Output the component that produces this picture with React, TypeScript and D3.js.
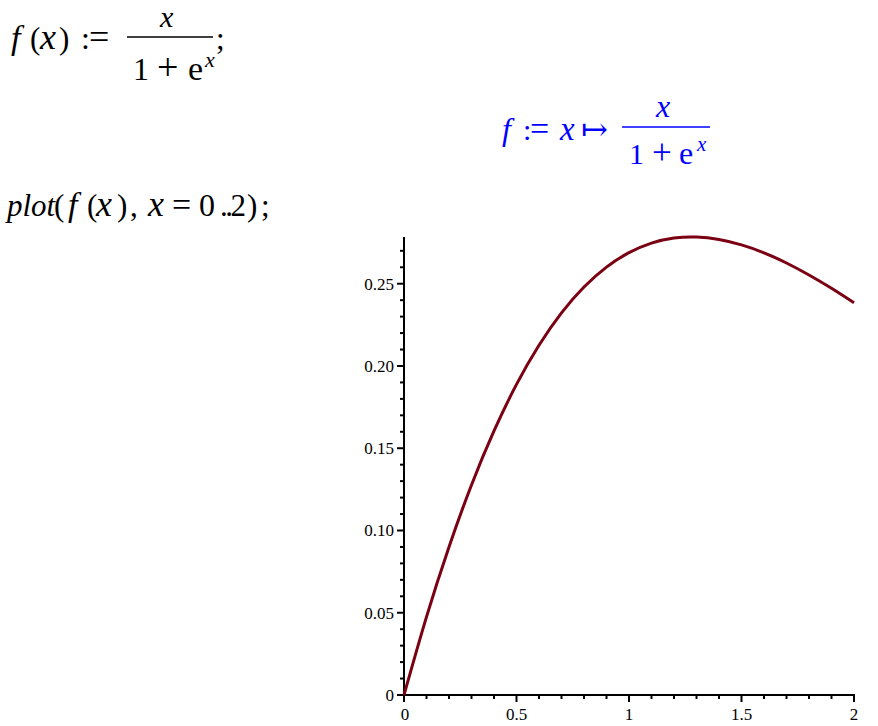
import React from 'react';
import * as d3 from 'd3';

// f(x) = x / (1 + e^x) at 0.1 steps
const xValues = [0, 0.1, 0.2, 0.3, 0.4, 0.5, 0.6, 0.7, 0.8, 0.9, 1.0, 1.1, 1.2, 1.3, 1.4, 1.5, 1.6, 1.7, 1.8, 1.9, 2.0];
const yValues = [0, 0.0475, 0.0900, 0.1277, 0.1605, 0.1888, 0.2126, 0.2323, 0.2480, 0.2601, 0.2689, 0.2747, 0.2778, 0.2784, 0.2769, 0.2736, 0.2688, 0.2626, 0.2553, 0.2472, 0.2384];

const xMajorTicks = [0, 0.5, 1, 1.5, 2];
const xTickLabels = ['0', '0.5', '1', '1.5', '2'];
const yMajorTicks = [0, 0.05, 0.1, 0.15, 0.2, 0.25];
const yTickLabels = ['0', '0.05', '0.10', '0.15', '0.20', '0.25'];
const yMax = 0.2784;

const serif = '"Liberation Serif", "DejaVu Serif", serif';

// worksheet text pieces: [text, left, baseline, italic, size, letterSpacing]
type Piece = [string, number, number, boolean, number, number?];

const inputLine1: Piece[] = [
  ['f', 11, 49, true, 34], ['(', 30, 49, false, 31], ['x', 40, 49, true, 36], [')', 59, 49, false, 31],
  [':', 81, 49, false, 32], ['=', 89, 49, false, 36],
  ['x', 160, 27, true, 30],
  ['1', 133, 80, false, 32], ['+', 157, 80, false, 38], ['e', 188, 80, false, 34], ['x', 205, 67, true, 22],
  [';', 216, 49, false, 31],
];
const inputLine2: Piece[] = [
  ['plot', 7, 216, true, 31], ['(', 54, 216, false, 31], ['f', 68, 216, true, 34], ['(', 87, 216, false, 31],
  ['x', 96, 216, true, 36], [')', 117, 216, false, 31], [',', 130, 216, false, 31],
  ['x', 148, 216, true, 36], ['=', 172, 216, false, 34], ['0', 199, 216, false, 32],
  ['..2', 220, 216, false, 31, -2.5],
  [')', 247, 216, false, 31], [';', 261, 216, false, 31],
];
const outputLine: Piece[] = [
  ['f', 502, 140, true, 32], [':', 523, 140, false, 30], ['=', 530, 140, false, 34],
  ['x', 560, 140, true, 33], ['↦', 581, 140, false, 32],
  ['x', 656, 117, true, 32],
  ['1', 629, 164, false, 30], ['+', 652, 164, false, 35], ['e', 679, 164, false, 32], ['x', 697, 151, true, 21],
];

const Pieces = ({ items, color }: { items: Piece[]; color: string }) => (
  <g fontFamily={serif} fill={color}>
    {items.map(([t, px, py, ital, size, ls], i) => (
      <text key={i} x={px} y={py} fontSize={size} letterSpacing={ls || 0}
        fontStyle={ital ? 'italic' : 'normal'}>{t}</text>
    ))}
  </g>
);

const App = () => {
  const x = d3.scaleLinear().domain([0, 2]).range([404, 854]);
  const y = d3.scaleLinear().domain([0, yMax]).range([695, 237]);

  const line = d3.line<number>()
    .x((d, i) => x(xValues[i]))
    .y(d => y(d))
    .curve(d3.curveNatural);

  const xMinor = d3.range(0, 20).map(i => i * 0.1).filter(v => Math.abs(v * 2 - Math.round(v * 2)) > 1e-6);
  const yMinor = d3.range(1, 28).map(i => i * 0.01).filter(v => Math.abs(v * 20 - Math.round(v * 20)) > 1e-6);

  return (
    <svg width={878} height={726} style={{ position: 'absolute', left: 0, top: 0, background: '#fff' }}>
      <Pieces items={inputLine1} color="#000" />
      <line x1={127} x2={213} y1={37} y2={37} stroke="#000" strokeWidth={1.3} />
      <Pieces items={inputLine2} color="#000" />
      <Pieces items={outputLine} color="#0000ff" />
      <line x1={622} x2={710} y1={127} y2={127} stroke="#0000ff" strokeWidth={1.3} />

      {/* axes */}
      <g stroke="#000" strokeWidth={2}>
        <line x1={x(0)} x2={x(0)} y1={y(0)} y2={y(yMax)} />
        <line x1={x(0) - 1} x2={x(2) + 1} y1={y(0)} y2={y(0)} />
        {xMajorTicks.map(v => (
          <line key={'xM' + v} x1={x(v)} x2={x(v)} y1={y(0)} y2={y(0) + 7} />
        ))}
        {xMinor.map(v => (
          <line key={'xm' + v} x1={x(v)} x2={x(v)} y1={y(0)} y2={y(0) + 4} />
        ))}
        {yMajorTicks.map(v => (
          <line key={'yM' + v} x1={x(0) - 7} x2={x(0)} y1={y(v)} y2={y(v)} />
        ))}
        {yMinor.map(v => (
          <line key={'ym' + v} x1={x(0) - 4} x2={x(0)} y1={y(v)} y2={y(v)} />
        ))}
      </g>

      <g fontFamily={serif} fontSize={17} fill="#000">
        {xMajorTicks.map((v, i) => (
          <text key={'xl' + v} x={x(v) + (i === 0 ? 1 : 0)} y={y(0) + 25} textAnchor="middle">{xTickLabels[i]}</text>
        ))}
        {yMajorTicks.map((v, i) => (
          <text key={'yl' + v} x={x(0) - 10} y={y(v) + 6} textAnchor="end">{yTickLabels[i]}</text>
        ))}
      </g>

      <path d={line(yValues) || ''} fill="none" stroke="#7a0012" strokeWidth={3} />
    </svg>
  );
};

export default App;
